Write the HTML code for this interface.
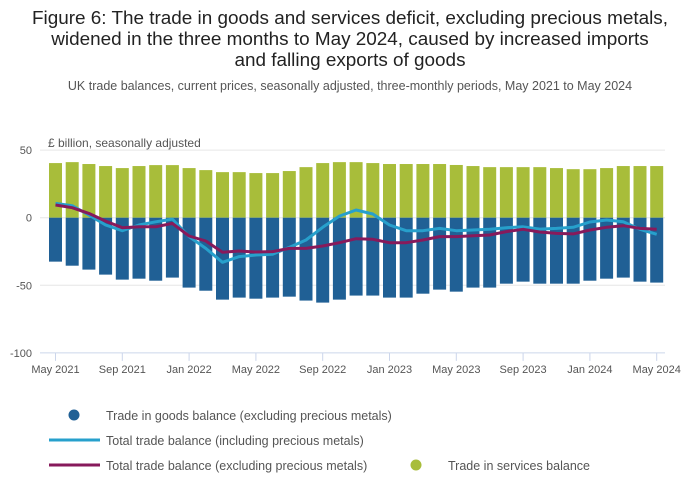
<!DOCTYPE html>
<html><head><meta charset="utf-8">
<style>
body{margin:0;background:#fff;font-family:"Liberation Sans",sans-serif;}
#wrap{position:relative;width:700px;height:502px;overflow:hidden;}
svg text{font-family:"Liberation Sans",sans-serif;}
</style></head>
<body>
<div id="wrap">
<svg id="chart" width="700" height="502">
<text x="350" y="24" text-anchor="middle" font-size="18.9" fill="#222">Figure 6: The trade in goods and services deficit, excluding precious metals,</text>
<text x="350" y="45" text-anchor="middle" font-size="18.9" fill="#222">widened in the three months to May 2024, caused by increased imports</text>
<text x="350" y="66" text-anchor="middle" font-size="18.9" fill="#222">and falling exports of goods</text>
<text x="350" y="90" text-anchor="middle" font-size="12.5" fill="#555">UK trade balances, current prices, seasonally adjusted, three-monthly periods, May 2021 to May 2024</text>
<text x="48" y="147" font-size="12" fill="#555">£ billion, seasonally adjusted</text>
<g id="grid"></g><g id="bars"></g><g id="lines"></g><g id="axes"></g>
<g>
<circle cx="74" cy="415" r="5.5" fill="#206095"/>
<text x="106" y="420" font-size="12.5" fill="#555">Trade in goods balance (excluding precious metals)</text>
<line x1="49" y1="440" x2="100" y2="440" stroke="#27a0cc" stroke-width="3"/>
<text x="106" y="445" font-size="12.5" fill="#555">Total trade balance (including precious metals)</text>
<line x1="49" y1="465" x2="100" y2="465" stroke="#871a5b" stroke-width="3"/>
<text x="106" y="470" font-size="12.5" fill="#555">Total trade balance (excluding precious metals)</text>
<circle cx="416" cy="465" r="5.5" fill="#a8bd3a"/>
<text x="448" y="470" font-size="12.5" fill="#555">Trade in services balance</text>
</g>
</svg>
</div>
<script>
const months=["May 2021","Jun 2021","Jul 2021","Aug 2021","Sep 2021","Oct 2021","Nov 2021","Dec 2021","Jan 2022","Feb 2022","Mar 2022","Apr 2022","May 2022","Jun 2022","Jul 2022","Aug 2022","Sep 2022","Oct 2022","Nov 2022","Dec 2022","Jan 2023","Feb 2023","Mar 2023","Apr 2023","May 2023","Jun 2023","Jul 2023","Aug 2023","Sep 2023","Oct 2023","Nov 2023","Dec 2023","Jan 2024","Feb 2024","Mar 2024","Apr 2024","May 2024"];
const goods=[-32.5,-35.5,-38.4,-42.1,-45.8,-45.1,-46.6,-44.3,-51.7,-54,-60.6,-59.1,-59.9,-59.1,-58.4,-61.3,-62.8,-60.6,-57.6,-57.6,-59.1,-59.1,-56.2,-53.2,-54.7,-51.7,-51.7,-48.8,-47.3,-48.8,-48.8,-48.8,-46.6,-45.1,-44.3,-47.3,-48.0];
const services=[40.4,41.1,39.7,38.2,36.7,38.2,38.9,38.9,36.7,35.2,33.7,33.7,33,33,34.5,37.4,40.4,41.1,41.1,40.4,39.7,39.7,39.7,39.7,39,38.2,37.4,37.4,37.4,37.4,36.7,35.9,35.9,36.7,38.2,38.2,38.2];
const totalIncl=[10.6,8.9,2,-5.4,-9.6,-5.4,-3,-1,-14,-22.7,-33,-28.8,-27.6,-27,-22,-16.5,-7.1,1.2,5.7,2.7,-5.4,-9.6,-9.6,-7.9,-9.6,-9.1,-8.6,-7.4,-6.7,-8.4,-7.9,-7.1,-3.2,-1.7,-3,-8.6,-12.3];
const totalExcl=[9.4,7.4,3.2,-2.5,-7.4,-6.7,-6.7,-4.2,-13.5,-17.2,-25.6,-24.6,-25.4,-25.1,-22.7,-22.7,-20.9,-18.5,-15.5,-16,-18.5,-18.5,-16.5,-14,-14,-13.3,-12.8,-10.3,-8.6,-10.6,-11.6,-12,-9.1,-7.1,-5.9,-7.9,-8.6];
const yTicks=[50,0,-50,-100];
const xTickIdx=[0,4,8,12,16,20,24,28,32,36];

const NS="http://www.w3.org/2000/svg";
function x(i){return 55.5+i*16.7;}
function y(v){return 217.7-v*1.352;}
function mk(tag,attrs,parent){const e=document.createElementNS(NS,tag);for(const k in attrs)e.setAttribute(k,attrs[k]);parent.appendChild(e);return e;}
const grid=document.getElementById('grid'),bars=document.getElementById('bars'),lines=document.getElementById('lines'),axes=document.getElementById('axes');
yTicks.forEach(t=>{
  if(t!==-100){const l=mk('line',{x1:40,x2:665,y1:y(t),y2:y(t),stroke:'#e6e6e6','stroke-width':1},grid);
  
  }
  const tx=mk('text',{x:32,y:y(t)+4,'text-anchor':'end','font-size':11,fill:'#555'},axes);tx.textContent=t;
  
  
});
const ax=mk('line',{x1:40,x2:665,y1:y(-100),y2:y(-100),stroke:'#ccd6eb','stroke-width':1},axes);


xTickIdx.forEach(i=>{
  const tk=mk('line',{x1:x(i),x2:x(i),y1:y(-100),y2:y(-100)+8,stroke:'#ccd6eb'},axes);
  
  
  const tx=mk('text',{x:x(i),y:373,'text-anchor':'middle','font-size':11,fill:'#555'},axes);tx.textContent=months[i];
  
  
});
months.forEach((m,i)=>{
  const s=mk('rect',{x:x(i)-6.5,width:13,y:y(services[i]),height:y(0)-y(services[i]),fill:'#a8bd3a'},bars);
  
  
  const g=mk('rect',{x:x(i)-6.5,width:13,y:y(0),height:y(goods[i])-y(0),fill:'#206095'},bars);
  
  
});
function path(arr){return arr.map((v,i)=>(i?'L':'M')+x(i).toFixed(1)+','+y(v).toFixed(1)).join('');}
const li=mk('path',{d:path(totalIncl),fill:'none',stroke:'#27a0cc','stroke-width':3,'stroke-linejoin':'round'},lines);


const le=mk('path',{d:path(totalExcl),fill:'none',stroke:'#871a5b','stroke-width':3,'stroke-linejoin':'round'},lines);


</script>
</body></html>
